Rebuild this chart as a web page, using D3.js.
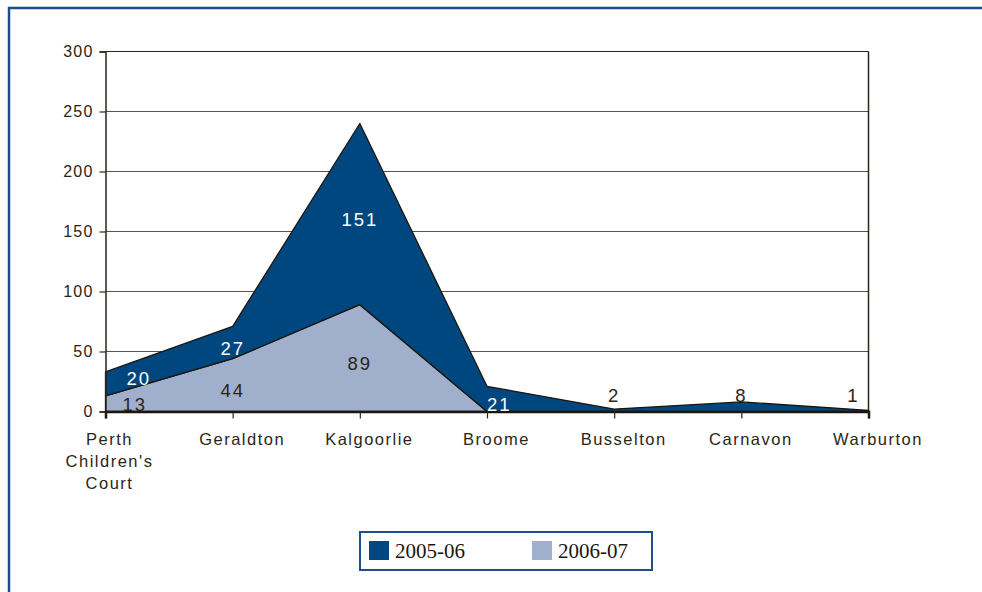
<!DOCTYPE html>
<html>
<head>
<meta charset="utf-8">
<script src="https://cdn.jsdelivr.net/npm/d3@7"></script>
<style>
  body { margin: 0; background: #fff; }
  text { font-family: "Liberation Sans", Arial, sans-serif; fill: #2b2519; }
</style>
</head>
<body>
<div id="chart"></div>
<script>
// Data
const categories = ["Perth Children's Court", "Geraldton", "Kalgoorlie", "Broome", "Busselton", "Carnavon", "Warburton"];
const categoryLines = [["Perth", "Children's", "Court"], ["Geraldton"], ["Kalgoorlie"], ["Broome"], ["Busselton"], ["Carnavon"], ["Warburton"]];
const series2005 = [20, 27, 151, 21, 2, 8, 1];
const series2006 = [13, 44, 89, 0, 0, 0, 0];
const seriesNames = ["2005-06", "2006-07"];
const yTicks = [0, 50, 100, 150, 200, 250, 300];

const width = 982, height = 592;
const margin = { top: 51.5, right: 113.5, bottom: 180.5, left: 105.5 };

const colors = { "2005-06": "#00477f", "2006-07": "#9fafcc" };

const svg = d3.select("#chart").append("svg")
    .attr("width", width)
    .attr("height", height);

// outer frame, runs off the right and bottom edges
svg.append("rect")
    .attr("x", 9).attr("y", 8)
    .attr("width", 1000).attr("height", 620)
    .attr("fill", "none")
    .attr("stroke", "#1f4f8a")
    .attr("stroke-width", 2.5);

const rows = categories.map((c, i) => ({ cat: c, "2005-06": series2005[i], "2006-07": series2006[i] }));

const x = d3.scalePoint()
    .domain(categories)
    .range([margin.left, width - margin.right])
    .padding(0);

const y = d3.scaleLinear()
    .domain([0, 300])
    .range([height - margin.bottom, margin.top]);

// gridlines
svg.append("g")
    .selectAll("line")
    .data(yTicks.filter(t => t > 0))
    .join("line")
    .attr("x1", margin.left).attr("x2", width - margin.right)
    .attr("y1", d => y(d)).attr("y2", d => y(d))
    .attr("stroke", d => d === 300 ? "#2b2519" : "#5a5446")
    .attr("stroke-width", 1.2);

// right border of plot
svg.append("line")
    .attr("x1", width - margin.right).attr("x2", width - margin.right)
    .attr("y1", y(300)).attr("y2", y(0))
    .attr("stroke", "#2b2519").attr("stroke-width", 1.5);

// stacked areas, 2006-07 at the bottom
const stack = d3.stack().keys(["2006-07", "2005-06"]);
const layers = stack(rows);

const area = d3.area()
    .x(d => x(d.data.cat))
    .y0(d => y(d[0]))
    .y1(d => y(d[1]));

svg.append("g")
    .selectAll("path")
    .data(layers)
    .join("path")
    .attr("d", area)
    .attr("fill", d => colors[d.key])
    .attr("stroke", "#1a160e")
    .attr("stroke-width", 1.3)
    .attr("stroke-linejoin", "round");

// y axis
const yAxis = d3.axisLeft(y).tickValues(yTicks).tickSize(6).tickPadding(6);
const yg = svg.append("g")
    .attr("transform", `translate(${margin.left},0)`)
    .call(yAxis);
yg.select(".domain").attr("stroke", "#2b2519").attr("stroke-width", 1.5);
yg.selectAll(".tick line").attr("stroke", "#2b2519").attr("stroke-width", 1.2);
yg.selectAll(".tick text")
    .style("font-size", "16px")
    .style("letter-spacing", "1.2px")
    .attr("fill", "#2b2519");

// x axis
const xAxis = d3.axisBottom(x).tickSize(7).tickFormat("");
const xg = svg.append("g")
    .attr("transform", `translate(0,${y(0)})`)
    .call(xAxis);
xg.select(".domain").attr("stroke", "#1a160e").attr("stroke-width", 2.5);
xg.selectAll(".tick line").attr("stroke", "#2b2519").attr("stroke-width", 1.2);

// category labels (the original sits them a little right of the ticks)
const catLabel = svg.append("g")
    .selectAll("text")
    .data(categories)
    .join("text")
    .attr("x", (d, i) => x(d) + (categoryLines[i].length > 1 ? 4 : 9.5))
    .attr("y", y(0) + 33)
    .attr("text-anchor", "middle")
    .style("font-size", "16.5px")
    .style("letter-spacing", "1.5px");
catLabel.selectAll("tspan")
    .data((d, i) => categoryLines[i])
    .join("tspan")
    .attr("x", function() { return d3.select(this.parentNode).attr("x"); })
    .attr("dy", (d, i) => i === 0 ? 0 : 22)
    .text(d => d);

// data labels: centred in their band, kept above the axis,
// thin bands get a dark label above the line
const last = categories.length - 1;
const baseY = y(0);
const labelData = [];
layers.forEach(layer => {
    layer.forEach((d, i) => {
        const v = d[1] - d[0];
        if (v <= 0) return;
        const small = v < 10;
        let by = small ? baseY - 10 : Math.min(y((d[0] + d[1]) / 2) + 12, baseY - 1);
        labelData.push({ key: layer.key, i, v, lo: d[0], by, small });
    });
});
// push upper labels away from the ones below them
labelData.forEach(a => {
    const below = labelData.find(b => b.i === a.i && b.key !== a.key && b.lo < a.lo);
    if (below && below.by - a.by < 26) a.by = below.by - 26;
});

svg.append("g")
    .selectAll("text")
    .data(labelData)
    .join("text")
    .attr("x", d => {
        const px = x(categories[d.i]);
        if (d.i === 0) return px + (d.key === "2005-06" ? 21 : 17);
        if (d.i === last) return px - 9;
        return px;
    })
    .attr("y", d => d.by)
    .attr("text-anchor", d => {
        if (d.i === 0) return "start";
        if (d.i === last) return "end";
        if (!d.small && d.lo === 0 && d.key === "2005-06") return "start";
        return "middle";
    })
    .style("font-size", "18.5px")
    .style("letter-spacing", "2px")
    .style("fill", d => (d.key === "2005-06" && !d.small) ? "#ffffff" : "#2b2519")
    .text(d => d.v);

// legend
const legend = svg.append("g").attr("transform", "translate(360,532)");
legend.append("rect")
    .attr("width", 292).attr("height", 38)
    .attr("fill", "#fff")
    .attr("stroke", "#1f4f8a")
    .attr("stroke-width", 2);

const items = legend.selectAll("g.item")
    .data(seriesNames)
    .join("g")
    .attr("class", "item")
    .attr("transform", (d, i) => `translate(${9 + i * 163},9)`);
items.append("rect")
    .attr("width", 20).attr("height", 19)
    .attr("fill", d => colors[d]);
items.append("text")
    .attr("x", 26).attr("y", 16.5)
    .style("font-family", "'Liberation Serif', 'Times New Roman', serif")
    .style("font-size", "21px")
    .style("fill", "#1a160e")
    .text(d => d);
</script>
</body>
</html>
